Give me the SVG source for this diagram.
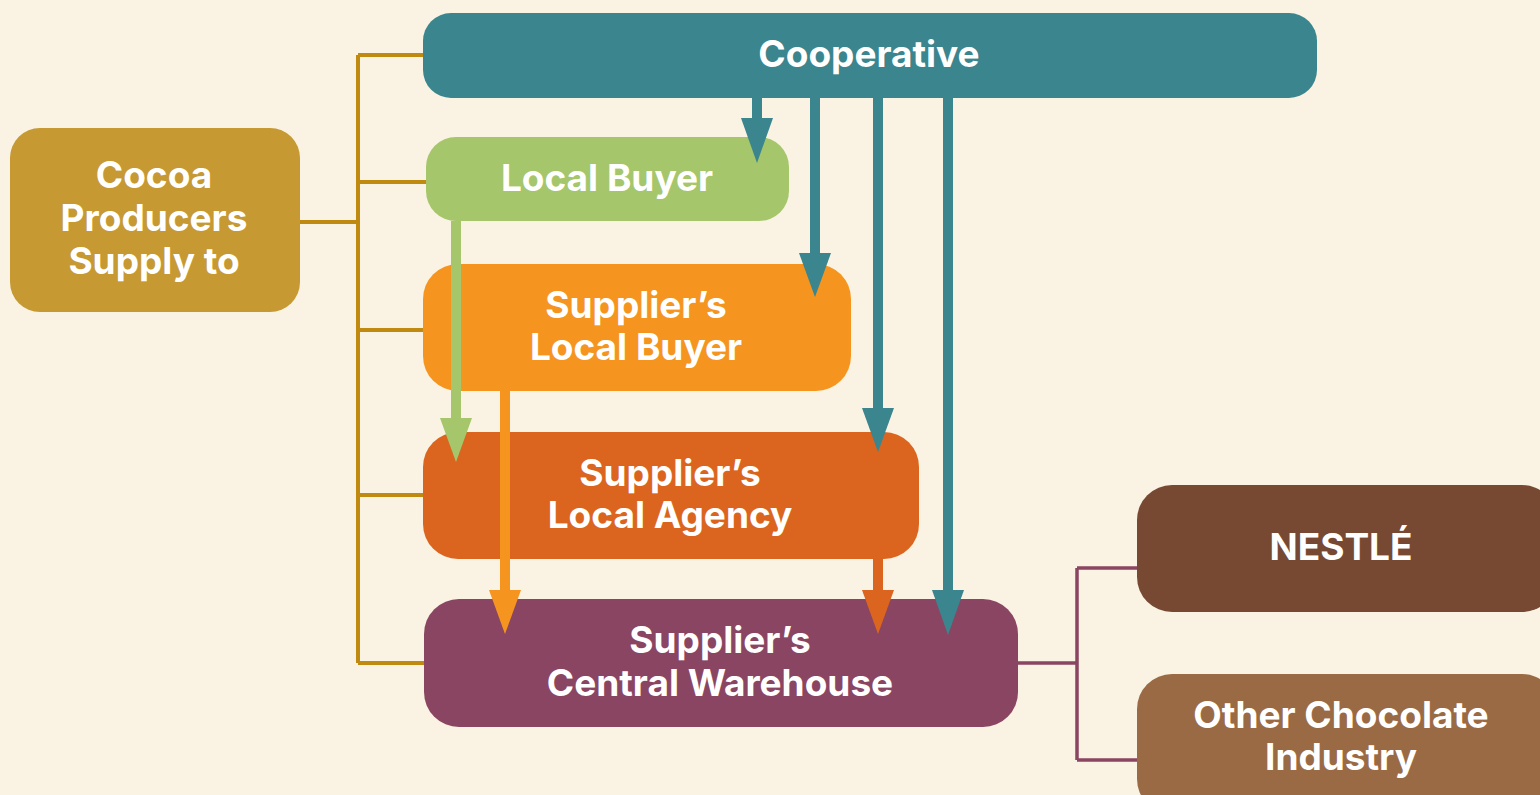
<svg xmlns="http://www.w3.org/2000/svg" width="1540" height="795" viewBox="0 0 1540 795">
<style>
.t{font-family:Inter,"Open Sans","Liberation Sans",sans-serif;font-weight:700;font-size:37px;fill:#fff;text-anchor:middle}
.br{fill:none;stroke:#C08A10;stroke-width:4}
.bp{fill:none;stroke:#8A4562;stroke-width:3.5}
</style>
<rect width="1540" height="795" fill="#FAF3E3"/>
<g id="connectors">
<path class="br" d="M300 222H358M358 55V663M358 55H425M358 182H428M358 330H425M358 495H425M358 663H426"/>
<path class="bp" d="M1018 663H1077M1077 568V760M1077 568H1139M1077 760H1139"/>
</g>
<g id="cocoa"><rect x="10" y="128" width="290" height="184" rx="30" fill="#C69932"/>
<text class="t" x="154" y="188">Cocoa</text><text class="t" x="154" y="231">Producers</text><text class="t" x="154" y="274">Supply to</text></g>
<g id="cooperative"><rect x="423" y="13" width="894" height="85" rx="28" fill="#3A858E"/>
<text class="t" x="869" y="67">Cooperative</text></g>
<g id="localbuyer"><rect x="426" y="137" width="363" height="84" rx="30" fill="#A5C66B"/>
<text class="t" x="607" y="191">Local Buyer</text></g>
<g id="supplierlocalbuyer"><rect x="423" y="264" width="428" height="127" rx="35" fill="#F5951F"/>
<text class="t" x="636" y="318">Supplier’s</text><text class="t" x="636" y="360">Local Buyer</text></g>
<g id="localagency"><rect x="423" y="432" width="496" height="127" rx="35" fill="#DB651E"/>
<text class="t" x="670" y="486">Supplier’s</text><text class="t" x="670" y="528">Local Agency</text></g>
<g id="warehouse"><rect x="424" y="599" width="594" height="128" rx="35" fill="#8A4562"/>
<text class="t" x="720" y="653">Supplier’s</text><text class="t" x="720" y="696">Central Warehouse</text></g>
<g id="nestle"><rect x="1137" y="485" width="420" height="127" rx="35" fill="#774932"/>
<text class="t" x="1341" y="560">NESTLÉ</text></g>
<g id="other"><rect x="1137" y="674" width="420" height="140" rx="35" fill="#9A6A44"/>
<text class="t" x="1341" y="728">Other Chocolate</text><text class="t" x="1341" y="770">Industry</text></g>
<g id="arrows">
<g fill="#3A858E">
<rect x="752" y="98" width="10" height="22"/><path d="M741 118H773L757 163Z"/>
<rect x="810" y="98" width="10" height="157"/><path d="M799 253H831L815 297Z"/>
<rect x="873" y="98" width="10" height="312"/><path d="M862 408H894L878 452Z"/>
<rect x="943" y="98" width="10" height="494"/><path d="M932 590H964L948 635Z"/>
</g>
<g fill="#A5C66B"><rect x="451" y="221" width="10" height="199"/><path d="M440 418H472L456 462Z"/></g>
<g fill="#F5951F"><rect x="500" y="391" width="10" height="201"/><path d="M489 590H521L505 634Z"/></g>
<g fill="#DB651E"><rect x="873" y="559" width="10" height="33"/><path d="M862 590H894L878 634Z"/></g>
</g>
</svg>
